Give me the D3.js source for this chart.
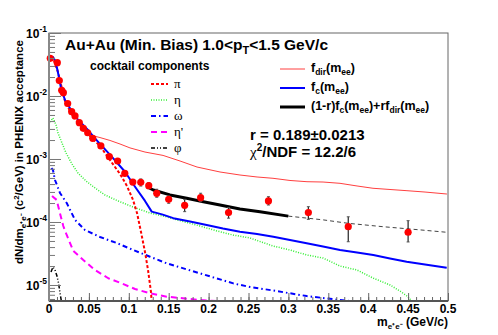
<!DOCTYPE html>
<html><head><meta charset="utf-8">
<script src="https://cdn.jsdelivr.net/npm/d3@7"></script>
<style>
body{margin:0;background:#fff;}
svg{display:block;font-family:"Liberation Sans",Arial,sans-serif;}
</style></head>
<body>
<svg id="c" width="498" height="335"></svg>
<script>
// ---------- data ----------
const xTickValues = [0,0.05,0.1,0.15,0.2,0.25,0.3,0.35,0.4,0.45,0.5];
const xTickLabels = ["0","0.05","0.1","0.15","0.2","0.25","0.3","0.35","0.4","0.45","0.5"];
const yTickValues = [1e-5,1e-4,1e-3,1e-2,1e-1];
const yTickExps = ["-5","-4","-3","-2","-1"];

// data points
const dataM  = [0.0016,0.0104,0.0129,0.0159,0.018,0.0234,0.0284,0.0326,0.038,0.043,0.0485,0.0548,0.065,0.0756,0.086,0.095,0.105,0.115,0.125,0.135,0.15,0.17,0.19,0.225,0.275,0.325,0.375,0.45];
const dataY  = [0.0396,0.0338,0.0176,0.0123,0.0113,0.0076,0.00564,0.00482,0.00377,0.00307,0.00261,0.00213,0.00161,0.00109,0.00093,0.000593,0.000431,0.000427,0.000377,0.000285,0.000229,0.000184,0.000243,0.000141,0.000216,0.000141,8.42e-5,6.87e-5];
const dataLo = [0.0396,0.0338,0.0176,0.0123,0.0113,0.0076,0.00564,0.00482,0.00377,0.00307,0.00261,0.00213,0.00161,0.00109,0.00093,0.000593,0.000431,0.000372,0.000339,0.000247,0.000198,0.000146,0.00021,0.000115,0.000186,0.00011,4.86e-5,4.82e-5];
const dataHi = [0.0396,0.0338,0.0176,0.0123,0.0113,0.0076,0.00564,0.00482,0.00377,0.00307,0.00261,0.00213,0.00161,0.00109,0.00093,0.000593,0.000431,0.000482,0.000421,0.000331,0.000259,0.000229,0.000286,0.000169,0.000252,0.000175,0.000121,0.000105];

// f_c (cocktail sum)
const fcM = [0.0013,0.005,0.0081,0.0119,0.015,0.020,0.030,0.0367,0.050,0.0576,0.0786,0.0952,0.1078,0.1203,0.1287,0.1416,0.1558,0.1767,0.1976,0.218,0.2393,0.2607,0.2811,0.302,0.3229,0.3434,0.3647,0.386,0.4064,0.4273,0.4482,0.4712,0.4984];
const fcY = [0.0373,0.0416,0.0360,0.0215,0.0134,0.00864,0.00537,0.00416,0.00278,0.00213,0.00109,0.000628,0.000363,0.000216,0.000146,0.000132,0.000115,0.000102,8.95e-5,7.88e-5,7.02e-5,6.45e-5,5.85e-5,5.18e-5,4.59e-5,4.08e-5,3.59e-5,3.28e-5,2.99e-5,2.64e-5,2.34e-5,2.11e-5,1.88e-5];

// f_dir
const fdirM = [0.0426,0.0514,0.0639,0.0764,0.089,0.1015,0.1203,0.1429,0.1642,0.1855,0.2143,0.2393,0.2607,0.2807,0.302,0.3233,0.3434,0.3647,0.386,0.406,0.4273,0.4486,0.4712,0.4987];
const fdirY = [0.00299,0.00240,0.00219,0.00197,0.00173,0.00150,0.00129,0.00114,0.000929,0.000746,0.000622,0.000557,0.000518,0.000494,0.000456,0.000436,0.000431,0.000411,0.000373,0.000343,0.000328,0.000314,0.000299,0.000278];

// fit (1-r)fc + r fdir
const fitM = [0.1224,0.1307,0.1516,0.1726,0.1934,0.2143,0.2393,0.2644,0.2999];
const fitY = [0.000363,0.000322,0.000269,0.000238,0.00021,0.000186,0.000161,0.000146,0.000124];
const extM = [0.2999,0.3438,0.375,0.419,0.4566,0.4984];
const extY = [0.000124,0.000108,9.53e-5,8.41e-5,7.66e-5,6.87e-5];

// cocktail components
const piM = [0.002,0.005,0.0113,0.020,0.0288,0.0388,0.0514,0.0639,0.0764,0.089,0.0977,0.1053,0.1103,0.1153,0.1203,0.1241,0.1278,0.1303];
const piY = [0.0387,0.0401,0.0240,0.00833,0.00499,0.00347,0.00232,0.00161,0.000964,0.000578,0.000373,0.000224,0.000139,6.93e-5,3.34e-5,1.73e-5,7.74e-6,2.78e-6];

const etaM = [0.0013,0.005,0.0088,0.0113,0.0163,0.0213,0.0288,0.0363,0.0464,0.0576,0.0702,0.0865,0.1053,0.1266,0.1479,0.1704,0.1892,0.2105,0.2306,0.2519,0.2807,0.302,0.3233,0.3434,0.3647,0.386,0.406,0.4273,0.4398,0.4486,0.4561];
const etaY = [0.00387,0.00448,0.00347,0.00259,0.00179,0.00125,0.000833,0.0006,0.000448,0.000347,0.000268,0.000216,0.000173,0.000139,0.00012,0.0001,8.64e-5,7.2e-5,6.22e-5,5.57e-5,4.16e-5,3.59e-5,2.99e-5,2.68e-5,2.0e-5,1.73e-5,1.29e-5,1.0e-5,8.03e-6,6.68e-6,5.37e-6];

const omegaM = [0.0031,0.005,0.0075,0.0138,0.0222,0.0326,0.0451,0.0639,0.0848,0.1056,0.1266,0.1475,0.1892,0.231,0.2519,0.2807,0.3229,0.3647,0.4023];
const omegaY = [0.00072,0.000668,0.000464,0.000288,0.0002,0.000108,7.46e-5,5.78e-5,4.64e-5,3.59e-5,2.81e-5,2.21e-5,1.53e-5,1.06e-5,9.29e-6,8.18e-6,6.68e-6,5.78e-6,5.18e-6];

const etapM = [0.0038,0.0096,0.0138,0.0179,0.0222,0.0305,0.043,0.0576,0.0743,0.0911,0.1078,0.1266,0.1475,0.1892,0.2268];
const etapY = [0.000259,0.000224,0.000137,8.64e-5,6.22e-5,3.47e-5,2.49e-5,1.73e-5,1.28e-5,1.06e-5,8.64e-6,7.38e-6,6.52e-6,5.78e-6,5.37e-6];

const phiM = [0.0025,0.005,0.0075,0.01,0.0119,0.0138,0.0157];
const phiY = [1.61e-5,1.93e-5,1.73e-5,1.39e-5,1.08e-5,7.46e-6,5.37e-6];

// ---------- drawing ----------
const svg = d3.select("#c");
const L=49, R=448, T=33, B=301;
const x = d3.scaleLinear().domain([0,0.5]).range([L,R]);
const y = d3.scaleLog().domain([Math.pow(10,-5.254),0.1]).range([B,T]);

svg.append("defs").append("clipPath").attr("id","clip")
  .append("rect").attr("x",L).attr("y",T).attr("width",R-L).attr("height",B-T);

const plot = svg.append("g").attr("clip-path","url(#clip)");
function curve(ms, vs, style){
  const pts = ms.map((m,i)=>[m,vs[i]]);
  const p = plot.append("path").datum(pts)
    .attr("d", d3.line().x(d=>x(d[0])).y(d=>y(d[1])))
    .attr("fill","none").attr("stroke",style.c).attr("stroke-width",style.w)
    .attr("stroke-linejoin","round");
  if(style.d) p.attr("stroke-dasharray",style.d);
  return p;
}
const S = {
  pi:{c:"#ff0000",w:2,d:"3,2"},
  eta:{c:"#33ee33",w:1.5,d:"1,1.5"},
  omega:{c:"#0000ff",w:2,d:"5,3,1.5,3"},
  etap:{c:"#ff00ff",w:2,d:"6,4"},
  phi:{c:"#000000",w:1.5,d:"4,2,1,2,1,2"},
  fdir:{c:"#ff4040",w:1},
  fc:{c:"#0000ff",w:2},
  fit:{c:"#000000",w:3},
  ext:{c:"#444444",w:1,d:"4,3"}
};
curve(etaM,etaY,S.eta);
curve(omegaM,omegaY,S.omega);
curve(etapM,etapY,S.etap);
curve(phiM,phiY,S.phi);
curve(fdirM,fdirY,S.fdir);
curve(piM,piY,S.pi);
curve(fcM,fcY,S.fc);
curve(extM,extY,S.ext);
curve(fitM,fitY,S.fit);

// data points
const dp = svg.append("g");
dataM.forEach((m,i)=>{
  if(dataHi[i]>dataLo[i]){
    dp.append("line").attr("x1",x(m)).attr("x2",x(m)).attr("y1",y(dataLo[i])).attr("y2",y(dataHi[i]))
      .attr("stroke","#222").attr("stroke-width",1.2);
    [dataLo[i],dataHi[i]].forEach(v=>dp.append("line").attr("x1",x(m)-1.5).attr("x2",x(m)+1.5)
      .attr("y1",y(v)).attr("y2",y(v)).attr("stroke","#555").attr("stroke-width",1));
  }
});
dp.selectAll("circle").data(dataM).enter().append("circle")
  .attr("cx",d=>x(d)).attr("cy",(d,i)=>y(dataY[i])).attr("r",3.6).attr("fill","#ff0000");

// frame
svg.append("rect").attr("x",L).attr("y",T).attr("width",R-L).attr("height",B-T)
  .attr("fill","none").attr("stroke","#666").attr("stroke-width",1);

// x axis ticks
const xMinor = d3.range(0,0.5001,0.01);
svg.append("g").attr("transform",`translate(0,${B})`)
  .call(d3.axisTop(x).tickValues(xMinor).tickSize(4).tickFormat(""))
  .call(g=>{g.select(".domain").remove(); g.selectAll("line").attr("stroke","#666");});
svg.append("g").attr("transform",`translate(0,${B})`)
  .call(d3.axisTop(x).tickValues(xTickValues).tickSize(8).tickFormat(""))
  .call(g=>{g.select(".domain").remove(); g.selectAll("line").attr("stroke","#666");});
svg.append("line").attr("x1",L).attr("x2",R).attr("y1",B).attr("y2",B).attr("stroke","#555").attr("stroke-width",2);
svg.append("g").selectAll("text").data(xTickValues).enter().append("text")
  .attr("x",d=>x(d)).attr("y",B+11.5).attr("text-anchor","middle")
  .attr("font-size",12).attr("font-weight","bold").text((d,i)=>xTickLabels[i]);

// y axis ticks
const yMinor=[];
for(let e=-6;e<=-2;e++) for(let k=2;k<=9;k++){const v=k*Math.pow(10,e); if(v>y.domain()[0]&&v<0.1) yMinor.push(v);}
svg.append("g").attr("transform",`translate(${L},0)`)
  .call(d3.axisRight(y).tickValues(yMinor).tickSize(6).tickFormat(""))
  .call(g=>{g.select(".domain").remove(); g.selectAll("line").attr("stroke","#777");});
svg.append("g").attr("transform",`translate(${L},0)`)
  .call(d3.axisRight(y).tickValues(yTickValues).tickSize(12).tickFormat(""))
  .call(g=>{g.select(".domain").remove(); g.selectAll("line").attr("stroke","#777");});
svg.append("line").attr("x1",L).attr("x2",L).attr("y1",T).attr("y2",B).attr("stroke","#888").attr("stroke-width",2);
const yl = svg.append("g");
yTickValues.forEach((v,i)=>{
  const t = yl.append("text").attr("x",L-2).attr("y",y(v)+5).attr("text-anchor","end")
    .attr("font-size",12).attr("font-weight","bold");
  t.append("tspan").text("10");
  t.append("tspan").attr("dy",-6).attr("font-size",8.5).text(yTickExps[i]);
});

// axis titles
const xt = svg.append("text").attr("x",R).attr("y",326).attr("text-anchor","end")
  .attr("font-size",12).attr("font-weight","bold");
xt.append("tspan").text("m");
xt.append("tspan").attr("dy",3).attr("font-size",8).text("e⁺e⁻");
xt.append("tspan").attr("dy",-3).text(" (GeV/c)");

const yt = svg.append("text").attr("transform","translate(23,152) rotate(-90)").attr("text-anchor","middle")
  .attr("font-size",11.5).attr("font-weight","bold");
yt.append("tspan").text("dN/dm");
yt.append("tspan").attr("dy",3).attr("font-size",8).text("e⁺e⁻");
yt.append("tspan").attr("dy",-3).text(" (c");
yt.append("tspan").attr("dy",-4).attr("font-size",8).text("2");
yt.append("tspan").attr("dy",4).text("/GeV) in PHENIX acceptance");

// title
const tt = svg.append("text").attr("x",65).attr("y",50).attr("font-size",15.5).attr("font-weight","bold");
tt.append("tspan").text("Au+Au (Min. Bias) 1.0<p");
tt.append("tspan").attr("dy",4).attr("font-size",11).text("T");
tt.append("tspan").attr("dy",-4).text("<1.5 GeV/c");

svg.append("text").attr("x",90).attr("y",70).attr("font-size",12).attr("font-weight","bold").text("cocktail components");

// left legend
const legL = [["π",S.pi],["η",S.eta],["ω",S.omega],["η'",S.etap],["φ",S.phi]];
const legLY = [84,100,116,132,148];
legL.forEach((e,i)=>{
  const st=e[1];
  const ln=svg.append("line").attr("x1",151).attr("x2",168).attr("y1",legLY[i]).attr("y2",legLY[i])
    .attr("stroke",st.c).attr("stroke-width",st.w);
  if(st.d) ln.attr("stroke-dasharray",st.d);
  svg.append("text").attr("x",174).attr("y",legLY[i]+4).attr("font-size",13)
    .attr("font-family","'Liberation Serif','DejaVu Serif',serif").text(e[0]);
});

// right legend
const legRY=[69,88,107];
[S.fdir,S.fc,S.fit].forEach((st,i)=>{
  svg.append("line").attr("x1",280).attr("x2",305).attr("y1",legRY[i]).attr("y2",legRY[i])
    .attr("stroke",st.c).attr("stroke-width",i==0?1:(i==1?2:3));
});
function lbl(yy, parts){
  const t=svg.append("text").attr("x",311).attr("y",yy).attr("font-size",12.5).attr("font-weight","bold");
  parts.forEach(p=>{
    const s=t.append("tspan").text(p[0]);
    if(p[1]) s.attr("dy",p[1]);
    if(p[1]>0) s.attr("font-size",8.5);
  });
}
lbl(72,[["f"],["dir",3],["(m",-3],["ee",3],[")",-3]]);
lbl(91,[["f"],["c",3],["(m",-3],["ee",3],[")",-3]]);
lbl(110,[["(1-r)f"],["c",3],["(m",-3],["ee",3],[")+rf",-3],["dir",3],["(m",-3],["ee",3],[")",-3]]);

svg.append("text").attr("x",250).attr("y",140).attr("font-size",15).attr("font-weight","bold").text("r = 0.189±0.0213");
const chi=svg.append("text").attr("x",250).attr("y",157).attr("font-size",15).attr("font-weight","bold");
chi.append("tspan").attr("font-family","'Liberation Serif',serif").attr("font-weight","normal").text("χ");
chi.append("tspan").attr("dy",-6).attr("font-size",10).text("2");
chi.append("tspan").attr("dy",6).text("/NDF = 12.2/6");
</script>
</body></html>
